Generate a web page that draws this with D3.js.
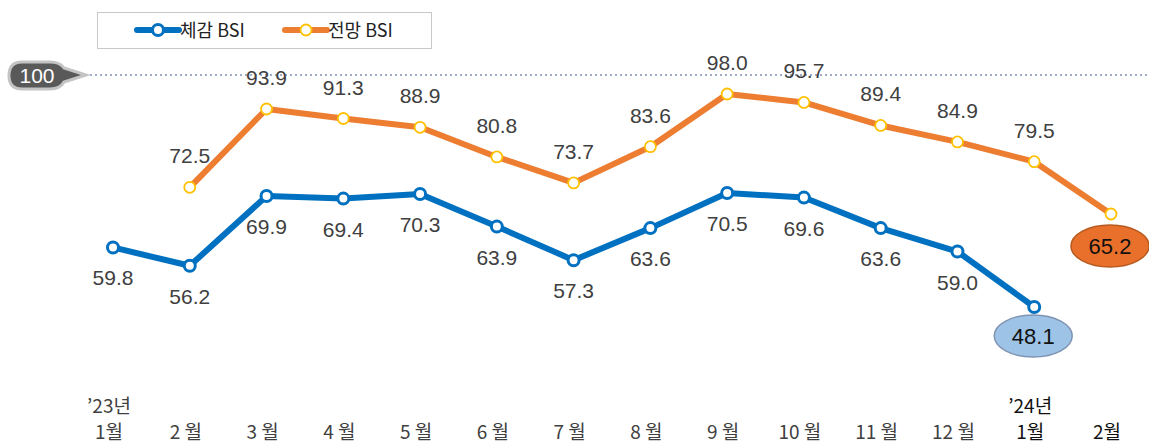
<!DOCTYPE html>
<html>
<head>
<meta charset="utf-8">
<style>
     body {
          margin: 0;
          background: #fff;
          font-family: "Liberation Sans", Arial, "Noto Sans CJK KR", sans-serif;
     }
     .val {
          font-size: 21px;
          fill: #404040;
          text-anchor: middle;
     }
     .month {
          font-family: "Noto Sans CJK KR", sans-serif;
          font-size: 19px;
          fill: #404040;
          text-anchor: middle;
     }
     .month.cur {
          fill: #111;
     }
     .legend-text {
          font-family: "Noto Sans CJK KR", sans-serif;
          font-size: 18px;
          fill: #222;
     }
</style>
</head>
<body>
<script src="https://d3js.org/d3.v7.min.js"></script>
<script>

     var months = ["1월", "2 월", "3 월", "4 월", "5 월", "6 월", "7 월", "8 월", "9 월", "10 월", "11 월", "12 월", "1월", "2월"];
     var yearLabels = [{i: 0, text: "’23년"}, {i: 12, text: "’24년"}];

     // 체감 BSI (no Feb'24 value yet)
     var felt = [59.8, 56.2, 69.9, 69.4, 70.3, 63.9, 57.3, 63.6, 70.5, 69.6, 63.6, 59.0, 48.1, null];
     // 전망 BSI (starts from Feb'23)
     var outlook = [null, 72.5, 93.9, 91.3, 88.9, 80.8, 73.7, 83.6, 98.0, 95.7, 89.4, 84.9, 79.5, 65.2];

     var refValue = 100;

     var width = 1149, height = 444;

     var svg = d3.select("body").append("svg")
          .attr("width", width)
          .attr("height", height);

     var x = d3.scalePoint()
          .domain(d3.range(months.length))
          .range([113, 1111]);

     // each series has its own axis in the original
     var yFelt = d3.scaleLinear().domain([48.1, 70.5]).range([307, 193]);
     var yOut = d3.scaleLinear().domain([65.2, 98]).range([214, 94]);

     var blue = "#0070c0", orange = "#ed7d31";

     // reference line at 100
     var refY = 75;
     svg.append("line")
          .attr("x1", 70).attr("x2", width)
          .attr("y1", refY).attr("y2", refY)
          .attr("stroke", "#7f93b2")
          .attr("stroke-width", 1.5)
          .attr("stroke-dasharray", "2,3");

     var tag = svg.append("g");
     tag.append("path")
          .attr("d", "M22,62 H50 Q60,62 64,68 L86,75 L64,82 Q60,89 50,89 H22 Q9,89 9,75.5 Q9,62 22,62 Z")
          .attr("fill", "#595959")
          .attr("stroke", "#c4c4c4")
          .attr("stroke-width", 3);
     tag.append("text")
          .attr("x", 37).attr("y", 83)
          .attr("text-anchor", "middle")
          .attr("fill", "#fff")
          .style("font-size", "21px")
          .text(refValue);

     function drawSeries(data, y, color, ring, lw) {
          var pts = data.map(function(v, i) { return {i: i, v: v}; })
               .filter(function(d) { return d.v != null; });

          var line = d3.line()
               .x(function(d) { return x(d.i); })
               .y(function(d) { return y(d.v); });

          svg.append("path")
               .datum(pts)
               .attr("d", line)
               .attr("fill", "none")
               .attr("stroke", color)
               .attr("stroke-width", lw)
               .attr("stroke-linejoin", "round");

          svg.append("g").selectAll("circle")
               .data(pts)
            .enter().append("circle")
               .attr("cx", function(d) { return x(d.i); })
               .attr("cy", function(d) { return y(d.v); })
               .attr("r", 5.5)
               .attr("fill", "#fff")
               .attr("stroke", ring)
               .attr("stroke-width", ring == blue ? 3 : 1.8);

          return pts;
     }

     var outPts = drawSeries(outlook, yOut, orange, "#ffc000", 6);
     var feltPts = drawSeries(felt, yFelt, blue, blue, 6);

     // value labels (last point of each gets an ellipse)
     svg.append("g").selectAll("text")
          .data(outPts.slice(0, -1))
       .enter().append("text")
          .attr("class", "val")
          .attr("x", function(d) { return x(d.i); })
          .attr("y", function(d) { return yOut(d.v) - 24; })
          .text(function(d) { return d.v.toFixed(1); });

     svg.append("g").selectAll("text")
          .data(feltPts.slice(0, -1))
       .enter().append("text")
          .attr("class", "val")
          .attr("x", function(d) { return x(d.i); })
          .attr("y", function(d) { return yFelt(d.v) + 38; })
          .text(function(d) { return d.v.toFixed(1); });

     function bubble(d, y, fill, edge, dy) {
          var cx = x(d.i) - 1, cy = y(d.v) + dy;
          svg.append("ellipse")
               .attr("cx", cx).attr("cy", cy)
               .attr("rx", 39).attr("ry", 21)
               .attr("fill", fill)
               .attr("stroke", edge)
               .attr("stroke-width", 1.5);
          svg.append("text")
               .attr("class", "val")
               .attr("x", cx).attr("y", cy + 8)
               .style("fill", "#111")
               .style("font-size", "22px")
               .text(d.v.toFixed(1));
     }
     bubble(outPts[outPts.length - 1], yOut, "#e8702a", "#b85a20", 32);
     bubble(feltPts[feltPts.length - 1], yFelt, "#9dc3e6", "#7f93b2", 29);

     // x labels
     svg.append("g").selectAll("text")
          .data(months)
       .enter().append("text")
          .attr("class", function(d, i) { return i >= 12 ? "month cur" : "month"; })
          .attr("x", function(d, i) { return x(i) - 4; })
          .attr("y", 439)
          .text(function(d) { return d; });

     svg.append("g").selectAll("text")
          .data(yearLabels)
       .enter().append("text")
          .attr("class", function(d) { return d.i >= 12 ? "month cur" : "month"; })
          .attr("x", function(d) { return x(d.i) - 4; })
          .attr("y", 413)
          .text(function(d) { return d.text; });

     // legend
     var legend = svg.append("g");
     legend.append("rect")
          .attr("x", 97.5).attr("y", 12.5)
          .attr("width", 334).attr("height", 36)
          .attr("fill", "#fff")
          .attr("stroke", "#c8c8c8");

     var items = [{name: "체감 BSI", color: blue, ring: blue, x: 137},
                  {name: "전망 BSI", color: orange, ring: "#ffc000", x: 285}];
     items.forEach(function(it) {
          legend.append("line")
               .attr("x1", it.x).attr("x2", it.x + 42)
               .attr("y1", 30).attr("y2", 30)
               .attr("stroke", it.color)
               .attr("stroke-width", 6)
               .attr("stroke-linecap", "round");
          legend.append("circle")
               .attr("cx", it.x + 21).attr("cy", 30).attr("r", 5.5)
               .attr("fill", "#fff")
               .attr("stroke", it.ring)
               .attr("stroke-width", it.color == blue ? 3 : 1.8);
          legend.append("text")
               .attr("class", "legend-text")
               .attr("x", it.x + 43).attr("y", 36.5)
               .text(it.name);
     });

</script>
</body>
</html>
